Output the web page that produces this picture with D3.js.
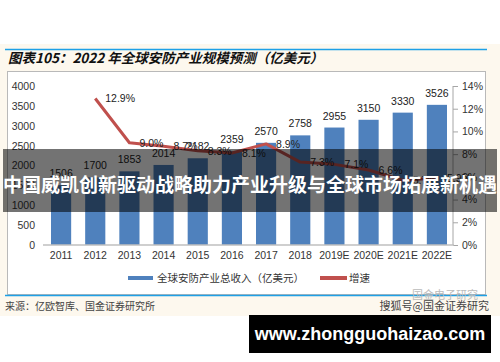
<!DOCTYPE html>
<html>
<head>
<meta charset="utf-8">
<script src="https://cdn.jsdelivr.net/npm/d3@7"></script>
<style>
  body { margin: 0; background: #fff; }
  svg { display: block; }
</style>
</head>
<body>
<div id="chart"></div>
<script>
const years = ["2011", "2012", "2013", "2014", "2015", "2016", "2017", "2018", "2019E", "2020E", "2021E", "2022E"];
const revenue = [1506, 1700, 1853, 2014, 2182, 2359, 2570, 2758, 2955, 3150, 3330, 3526];
// growth starts at 2012
const growth = [null, 12.9, 9.0, 8.7, 8.3, 8.1, 8.9, 7.3, 7.1, 6.6, 5.7, 5.9];
const left_ticks = [0, 500, 1000, 1500, 2000, 2500, 3000, 3500, 4000];
const right_ticks = [0, 2, 4, 6, 8, 10, 12, 14];

const W = 500, H = 362;
const plot = { left: 44, right: 454, top: 86, bottom: 245 };
const num_font = "'Liberation Sans', Arial, sans-serif";
const cjk_font = "'Noto Sans CJK SC', sans-serif";

let svg = d3.select("#chart").append("svg").attr("width", W).attr("height", H);

// cream panel + frames
svg.append("rect").attr("x", 0).attr("y", 44).attr("width", W).attr("height", 272).attr("fill", "#fdf8ee");
svg.append("line").attr("x1", 5).attr("x2", 487).attr("y1", 49.5).attr("y2", 49.5)
  .attr("stroke", "#1ea0e6").attr("stroke-width", 1.5);
svg.append("text").attr("x", 8).attr("y", 63)
  .attr("font-family", cjk_font).attr("font-size", 13.5).attr("font-weight", 700)
  .attr("font-style", "italic").attr("fill", "#111")
  .text("图表105：2022 年全球安防产业规模预测（亿美元）");
svg.append("rect").attr("x", 7.5).attr("y", 71.5).attr("width", 478).attr("height", 223)
  .attr("fill", "#fff").attr("stroke", "#b9b9b9");
svg.append("line").attr("x1", 5).attr("x2", 487).attr("y1", 295.5).attr("y2", 295.5)
  .attr("stroke", "#1ea0e6").attr("stroke-width", 1.5);

let x = d3.scaleBand().domain(years).range([plot.left, plot.right]).paddingInner(0.41).paddingOuter(0.205);
let y_left = d3.scaleLinear().domain([0, 4000]).range([plot.bottom, plot.top]);
let y_right = d3.scaleLinear().domain([0, 14]).range([plot.bottom, plot.top]);

// left axis: labels only
let ax_l = svg.append("g").attr("transform", "translate(" + plot.left + ",0)")
  .call(d3.axisLeft(y_left).tickValues(left_ticks).tickSize(0).tickPadding(9).tickFormat(d3.format("d")));
ax_l.select(".domain").remove();
ax_l.selectAll("text").attr("font-family", num_font).attr("font-size", 10.5).attr("fill", "#333");

// right axis
let ax_r = svg.append("g").attr("transform", "translate(" + (plot.right - 1) + ",0)")
  .call(d3.axisRight(y_right).tickValues(right_ticks).tickSize(5).tickPadding(4).tickFormat(d => d + "%"));
ax_r.select(".domain").attr("stroke", "#a6a6a6").attr("d", "M0," + plot.top + "V" + plot.bottom);
ax_r.selectAll(".tick line").attr("stroke", "#a6a6a6");
ax_r.selectAll("text").attr("font-family", num_font).attr("font-size", 10.5).attr("fill", "#333");

// bars
svg.append("g").selectAll("rect").data(revenue).join("rect")
  .attr("x", (d, i) => x(years[i]))
  .attr("y", d => y_left(d))
  .attr("width", x.bandwidth())
  .attr("height", d => y_left(0) - y_left(d))
  .attr("fill", "#4f81bd");

svg.append("g").selectAll("text").data(revenue).join("text")
  .attr("x", (d, i) => x(years[i]) + x.bandwidth() / 2)
  .attr("y", d => y_left(d) - 8)
  .attr("text-anchor", "middle")
  .attr("font-family", num_font).attr("font-size", 10.5).attr("fill", "#222")
  .text(d => d);

// x axis
let ax_x = svg.append("g").attr("transform", "translate(0," + plot.bottom + ")")
  .call(d3.axisBottom(x).tickSize(0).tickPadding(7));
ax_x.select(".domain").attr("stroke", "#bfbfbf").attr("stroke-width", 1.5)
  .attr("d", "M" + (plot.left - 1) + ",0H" + plot.right);
ax_x.selectAll("text").attr("font-family", num_font).attr("font-size", 10.5).attr("fill", "#333");

// growth line
let g_pts = growth.map((v, i) => ({ v, yr: years[i] })).filter(d => d.v !== null);
let line = d3.line()
  .x(d => x(d.yr) + x.bandwidth() / 2)
  .y(d => y_right(d.v));
svg.append("path").datum(g_pts).attr("d", line)
  .attr("fill", "none").attr("stroke", "#c0504d").attr("stroke-width", 3).attr("stroke-linejoin", "round");

svg.append("g").selectAll("text").data(g_pts).join("text")
  .attr("x", d => x(d.yr) + x.bandwidth() / 2 + 10)
  .attr("y", d => y_right(d.v) + 4)
  .attr("font-family", num_font).attr("font-size", 10.5).attr("fill", "#222")
  .text(d => d.v.toFixed(1) + "%");

// legend
let legend = svg.append("g").attr("font-family", cjk_font).attr("font-size", 10.5).attr("fill", "#333");
legend.append("rect").attr("x", 128).attr("y", 276).attr("width", 25).attr("height", 4).attr("fill", "#4f81bd");
legend.append("text").attr("x", 157).attr("y", 282).text("全球安防产业总收入（亿美元）");
legend.append("rect").attr("x", 320).attr("y", 276).attr("width", 27).attr("height", 4).attr("fill", "#c0504d");
legend.append("text").attr("x", 349).attr("y", 282).text("增速");

// source and watermarks
svg.append("text").attr("x", 5).attr("y", 310)
  .attr("font-family", cjk_font).attr("font-size", 10).attr("fill", "#444")
  .text("来源：亿欧智库、国金证券研究所");
svg.append("text").attr("x", 412).attr("y", 299)
  .attr("font-family", cjk_font).attr("font-size", 11).attr("fill", "#bbb")
  .text("国金电子研究");
svg.append("text").attr("x", 489).attr("y", 310).attr("text-anchor", "end")
  .attr("font-family", cjk_font).attr("font-size", 11).attr("fill", "#444")
  .text("搜狐号@国金证券研究");

// overlay banner
svg.append("rect").attr("x", 3).attr("y", 149).attr("width", 494).attr("height", 63)
  .attr("fill", "#000").attr("fill-opacity", 0.55);
svg.append("text").attr("x", 250).attr("y", 192).attr("text-anchor", "middle")
  .attr("font-family", cjk_font).attr("font-size", 19).attr("font-weight", 700).attr("fill", "#fff")
  .text("中国威凯创新驱动战略助力产业升级与全球市场拓展新机遇");

// site box
svg.append("rect").attr("x", 249).attr("y", 315).attr("width", 242).attr("height", 38).attr("fill", "#000");
svg.append("text").attr("x", 370).attr("y", 340).attr("text-anchor", "middle")
  .attr("font-family", "'Liberation Sans', Arial, sans-serif").attr("font-size", 18).attr("font-weight", 700).attr("fill", "#fff")
  .text("www.zhongguohaizao.com");
</script>
</body>
</html>
